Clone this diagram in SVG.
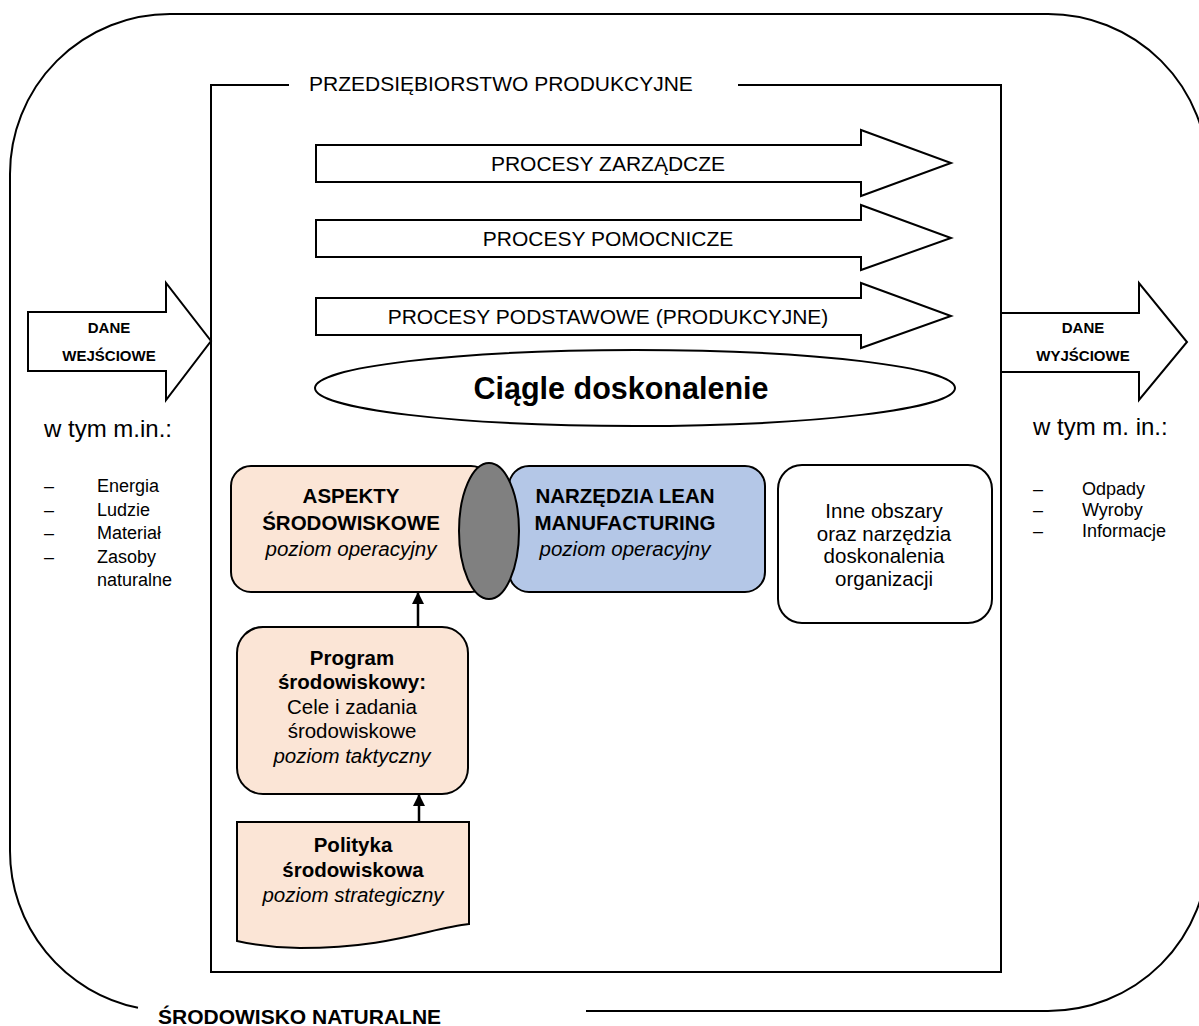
<svg xmlns="http://www.w3.org/2000/svg" width="1199" height="1026" viewBox="0 0 1199 1026">
<style>
text{font-family:"Liberation Sans",Arial,sans-serif;fill:#000}
.b{font-weight:bold}
.i{font-style:italic}
.c{text-anchor:middle}
.ln{fill:none;stroke:#000;stroke-width:2}
.ar{fill:#fff;stroke:#000;stroke-width:2;stroke-linejoin:miter}
.peach{fill:#FBE5D6;stroke:#000;stroke-width:2}
.blue{fill:#B4C7E7;stroke:#000;stroke-width:2}
.white{fill:#fff;stroke:#000;stroke-width:2}
.f20{font-size:20.5px}
</style>
<defs>
<marker id="ah" markerWidth="12" markerHeight="14" refX="11" refY="6" orient="auto" markerUnits="userSpaceOnUse">
<path d="M0,0 L12,6 L0,12 z" fill="#000"/>
</marker>
</defs>
<rect width="1199" height="1026" fill="#fff"/>

<g id="environment">
<path class="ln" d="M586,1011 H1048 A160,160 0 0 0 1208,851 V174 A160,160 0 0 0 1048,14 H170 A160,160 0 0 0 10,174 V851 A160,160 0 0 0 138,1007.8"/>
<text class="b" x="158" y="1024" font-size="21">ŚRODOWISKO NATURALNE</text>
</g>

<g id="enterprise">
<path class="ln" d="M289,85 H211 V972 H1001 V85 H738"/>
<text x="309" y="91" font-size="21">PRZEDSIĘBIORSTWO PRODUKCYJNE</text>
</g>

<g id="input">
<polygon class="ar" points="28,312 166,312 166,283 211,341 166,400 166,371 28,371"/>
<text class="b c" x="109" y="333" font-size="15">DANE</text>
<text class="b c" x="109" y="361" font-size="15">WEJŚCIOWE</text>
<text x="44" y="437" font-size="24">w tym m.in.:</text>
<g font-size="18">
<text x="44" y="492">–</text><text x="97" y="492">Energia</text>
<text x="44" y="515.5">–</text><text x="97" y="515.5">Ludzie</text>
<text x="44" y="539">–</text><text x="97" y="539">Materiał</text>
<text x="44" y="562.5">–</text><text x="97" y="562.5">Zasoby</text>
<text x="97" y="586">naturalne</text>
</g>
</g>

<g id="output">
<polygon class="ar" points="1001,313 1139,313 1139,283 1187,342 1139,400 1139,372 1001,372"/>
<text class="b c" x="1083" y="333" font-size="15">DANE</text>
<text class="b c" x="1083" y="361" font-size="15">WYJŚCIOWE</text>
<text x="1033" y="435" font-size="24">w tym m. in.:</text>
<g font-size="18">
<text x="1033" y="495">–</text><text x="1082" y="495">Odpady</text>
<text x="1033" y="516">–</text><text x="1082" y="516">Wyroby</text>
<text x="1033" y="537">–</text><text x="1082" y="537">Informacje</text>
</g>
</g>

<g id="proc-zarzadcze">
<polygon class="ar" points="316,145 861,145 861,130 951,163 861,196 861,182 316,182"/>
<text class="c" x="608" y="171" font-size="21">PROCESY ZARZĄDCZE</text>
</g>
<g id="proc-pomocnicze">
<polygon class="ar" points="316,220 861,220 861,205 951,238 861,270 861,257 316,257"/>
<text class="c" x="608" y="246" font-size="21">PROCESY POMOCNICZE</text>
</g>
<g id="proc-podstawowe">
<polygon class="ar" points="316,298 861,298 861,283 951,316 861,348 861,335 316,335"/>
<text class="c" x="608" y="324" font-size="21">PROCESY PODSTAWOWE (PRODUKCYJNE)</text>
</g>

<g id="ciagle">
<ellipse class="white" cx="635" cy="388" rx="320" ry="38"/>
<text class="b c" x="621" y="399" font-size="30.5">Ciągle doskonalenie</text>
</g>

<g id="aspekty">
<rect class="peach" x="231" y="466" width="260" height="126" rx="20"/>
<text class="b c f20" x="351" y="503">ASPEKTY</text>
<text class="b c f20" x="351" y="530">ŚRODOWISKOWE</text>
<text class="i c f20" x="351" y="556">poziom operacyjny</text>
</g>

<g id="lean">
<rect class="blue" x="509" y="466" width="256" height="126" rx="20"/>
<text class="b c f20" x="625" y="503">NARZĘDZIA LEAN</text>
<text class="b c f20" x="625" y="530">MANUFACTURING</text>
<text class="i c f20" x="625" y="556">poziom operacyjny</text>
</g>

<g id="overlap">
<ellipse cx="489" cy="531" rx="30" ry="68" fill="#808080" stroke="#000" stroke-width="2"/>
</g>

<g id="inne">
<rect class="white" x="778" y="465" width="214" height="158" rx="24"/>
<text class="c f20" x="884" y="518">Inne obszary</text>
<text class="c f20" x="884" y="540.5">oraz narzędzia</text>
<text class="c f20" x="884" y="563">doskonalenia</text>
<text class="c f20" x="884" y="585.5">organizacji</text>
</g>

<g id="program">
<rect class="peach" x="237" y="627" width="231" height="167" rx="26"/>
<text class="b c f20" x="352" y="665">Program</text>
<text class="b c f20" x="352" y="689">środowiskowy:</text>
<text class="c f20" x="352" y="714">Cele i zadania</text>
<text class="c f20" x="352" y="738">środowiskowe</text>
<text class="i c f20" x="352" y="763">poziom taktyczny</text>
</g>

<g id="polityka">
<path class="peach" d="M237,822 H469 V924 C430,928 390,948 300,948 C275,948 255,945 237,941 Z"/>
<text class="b c f20" x="353" y="852">Polityka</text>
<text class="b c f20" x="353" y="877">środowiskowa</text>
<text class="i c f20" x="353" y="902">poziom strategiczny</text>
</g>

<g id="connectors">
<line x1="418" y1="627" x2="418" y2="593" stroke="#000" stroke-width="2.5" marker-end="url(#ah)"/>
<line x1="419" y1="822" x2="419" y2="795" stroke="#000" stroke-width="2.5" marker-end="url(#ah)"/>
</g>
</svg>
